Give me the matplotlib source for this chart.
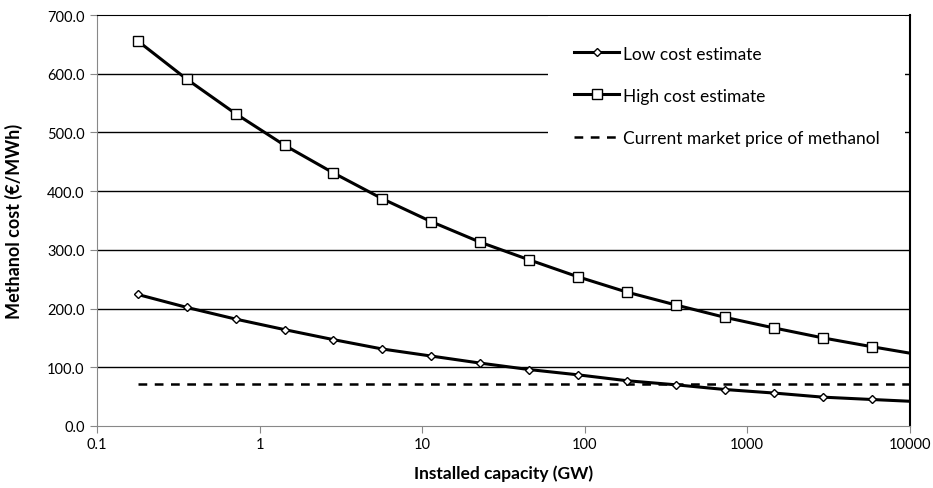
import matplotlib.pyplot as plt
from matplotlib.patches import Rectangle
from matplotlib.ticker import FixedLocator, NullLocator

plt.rcParams['font.family'] = ['Lato', 'DejaVu Sans']

# Installed capacity (GW); last value is the curve end without a marker
capacity = [0.178, 0.356, 0.713, 1.43, 2.85, 5.7, 11.4, 22.8, 45.6, 91.2,
            182, 365, 730, 1460, 2920, 5840, 10000]
low_cost = [224, 202, 182, 164, 147, 131, 119, 107, 96, 87,
            77, 70, 62, 56, 49, 45, 42]
high_cost = [656, 591, 532, 478, 431, 387, 348, 313, 283, 254,
             228, 206, 185, 167, 150, 135, 124]
market_x = [0.178, 10000]
market_price = [71.5, 71.5]

x_ticks = [0.1, 1, 10, 100, 1000, 10000]
x_labels = ['0.1', '1', '10', '100', '1000', '10000']
y_ticks = [0, 100, 200, 300, 400, 500, 600, 700]

fig = plt.figure(figsize=(9.33, 4.89), dpi=100)
ax = fig.add_axes([0.104, 0.127, 0.871, 0.840])

ax.set_xscale('log')
ax.set_xlim(0.1, 10000)
ax.set_ylim(0, 700)

for y in y_ticks[1:-1]:
    ax.axhline(y, color='black', lw=1.0, zorder=1)

n = len(capacity) - 1
ax.plot(capacity, low_cost, color='black', lw=2.2, marker='D', ms=4.5,
        mfc='white', mec='black', mew=1.0, markevery=list(range(n)),
        label='Low cost estimate', zorder=3)
ax.plot(capacity, high_cost, color='black', lw=2.2, marker='s', ms=6.5,
        mfc='white', mec='black', mew=1.0, markevery=list(range(n)),
        label='High cost estimate', zorder=3)
ax.plot(market_x, market_price, color='black', lw=1.8, ls=(0, (3.5, 3)),
        label='Current market price of methanol', zorder=2)

ax.xaxis.set_major_locator(FixedLocator(x_ticks))
ax.xaxis.set_minor_locator(NullLocator())
ax.set_xticklabels(x_labels)
ax.set_yticks(y_ticks)
ax.set_yticklabels([f'{v:.1f}' for v in y_ticks])
ax.tick_params(axis='both', direction='out', length=5, color='#888888',
               labelsize=10.5, pad=4)
ax.tick_params(axis='x', pad=3)

for side in ('left', 'bottom'):
    ax.spines[side].set_color('#888888')
ax.spines['top'].set_color('black')
ax.spines['right'].set_color('black')
ax.spines['right'].set_linewidth(1.5)

ax.set_xlabel('Installed capacity (GW)', fontsize=12.5, fontweight='bold',
              labelpad=10)
ax.set_ylabel('Methanol cost (€/MWh)', fontsize=13, fontweight='bold',
              labelpad=17)

# white legend area over the gridlines
ax.add_patch(Rectangle((0.555, 0.62), 0.439, 0.378, transform=ax.transAxes,
                       facecolor='white', edgecolor='none', zorder=4))
leg = ax.legend(loc='upper left', bbox_to_anchor=(0.587, 0.926),
                frameon=False, fontsize=12.5, handlelength=2.6,
                handletextpad=0.2, labelspacing=1.5, borderpad=0,
                borderaxespad=0)
leg.set_zorder(5)

fig.savefig('out.png', dpi=100)
